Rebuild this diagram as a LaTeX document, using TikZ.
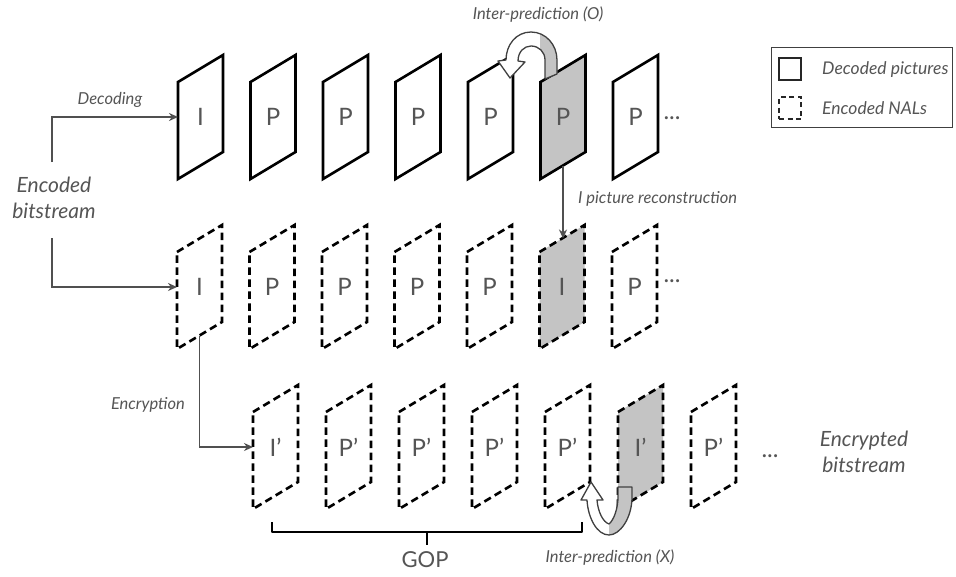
\documentclass[tikz,border=0pt]{standalone}
\usepackage{fontspec}
\setmainfont{Lato}
\usetikzlibrary{arrows.meta}
\definecolor{txt}{HTML}{555555}
\definecolor{arr}{HTML}{505050}
\definecolor{fillg}{HTML}{C4C4C4}
\definecolor{outl}{HTML}{404040}
\newcommand\pframe[6]{% x, T, style, fill, label, name
  \fill[#4] (#1,#2) -- ++(45,-27) -- ++(0,97) -- ++(-45,27) -- cycle;
  \draw[#3] (#1,#2) -- ++(45,-27) -- ++(0,97) -- ++(-45,27) -- cycle;
  \node[let] (#6) at ({#1+22.5},{#2+35}) {#5};
  \coordinate (#6-w) at (#1,{#2+35});
  \coordinate (#6-b) at ({#1+22.5},{#2+83.5});
  \coordinate (#6-t) at ({#1+22.5},{#2-13.5});
}
\newcommand\arrOpath{(557,74) -- (557,60) .. controls (557,45) and (546,32) .. (531,32)
  .. controls (516,32) and (506,45) .. (506,60) -- (498,61) -- (510,78) -- (525,62)
  -- (518,61) .. controls (518,52) and (524,46) .. (531,46)
  .. controls (539,46) and (545,52) .. (545,60) -- (545,79) -- cycle}
\newcommand\arrXpath{(632,487) -- (632,497) .. controls (632,518) and (620,535) .. (609,535)
  .. controls (597,535) and (588,518) .. (587,500) -- (581,500) -- (591,482) -- (603,500)
  -- (597,500) .. controls (598,512) and (603,522) .. (609,524)
  .. controls (614,520) and (618,508) .. (618,497) -- (618,487) -- cycle}
\begin{document}
\begin{tikzpicture}[x=1pt,y=-1pt,
  frm/.style={line width=2.6pt, line join=miter, black},
  dsh/.style={frm, dash pattern=on 7.5pt off 4.5pt},
  lbl/.style={font=\fontsize{16.5}{18}\selectfont\itshape, text=txt, inner sep=0pt},
  leglbl/.style={font=\fontsize{17.5}{19}\selectfont\itshape, text=txt, inner sep=0pt},
  big/.style={font=\fontsize{21}{26}\selectfont\itshape, text=txt, align=center, inner sep=0pt},
  let/.style={font=\fontsize{24}{26}\selectfont, text=txt, inner sep=0pt},
  conn/.style={draw=arr, line width=1.6pt, -{Stealth[length=9pt,width=8pt]}}
]
\useasboundingbox (0,0) rectangle (956,576);
\fill[white] (0,0) rectangle (956,576);

% top row: decoded pictures
\pframe{178}{82}{frm}{white}{I}{t0}
\pframe{250.5}{82}{frm}{white}{P}{t1}
\pframe{323}{82}{frm}{white}{P}{t2}
\pframe{395.5}{82}{frm}{white}{P}{t3}
\pframe{468}{82}{frm}{white}{P}{t4}
\pframe{540.5}{82}{frm}{fillg}{P}{t5}
\pframe{613}{82}{frm}{white}{P}{t6}
\node[let] (tdots) at (672,118) {...};

% middle row: encoded NALs
\pframe{177}{252}{dsh}{white}{I}{m0}
\pframe{249.5}{252}{dsh}{white}{P}{m1}
\pframe{322}{252}{dsh}{white}{P}{m2}
\pframe{394.5}{252}{dsh}{white}{P}{m3}
\pframe{467}{252}{dsh}{white}{P}{m4}
\pframe{539.5}{252}{dsh}{fillg}{I}{m5}
\pframe{612}{252}{dsh}{white}{P}{m6}
\node[let] (mdots) at (672,281) {...};

% bottom row: encrypted
\pframe{253}{412}{dsh}{white}{I’}{b0}
\pframe{326}{412}{dsh}{white}{P’}{b1}
\pframe{399}{412}{dsh}{white}{P’}{b2}
\pframe{472}{412}{dsh}{white}{P’}{b3}
\pframe{545}{412}{dsh}{white}{P’}{b4}
\pframe{618}{412}{dsh}{fillg}{I’}{b5}
\pframe{691}{412}{dsh}{white}{P’}{b6}
\node[let] (bdots) at (770,456) {...};

% labels
\node[big] (ebs) at (54,198) {Encoded\\bitstream};
\node[big] (ecb) at (864,452) {Encrypted\\bitstream};
\node[lbl] (dec) at (110,100) {Decoding};
\node[lbl] (ency) at (148,405) {Encryption};
\node[lbl, anchor=west] (ipr) at (578,199) {I picture reconstruction};
\node[lbl] (ipo) at (538,15) {Inter-prediction (O)};
\node[lbl] (ipx) at (610,558) {Inter-prediction (X)};
\node[font=\fontsize{22}{24}\selectfont, text=txt, inner sep=0pt] (gop) at (425,560) {GOP};

% connectors
\coordinate (ebsT) at (52,162);
\coordinate (ebsB) at (52,238);
\draw[conn] (ebsT) |- (t0-w);
\draw[conn] (ebsB) |- (m0-w);
\draw[conn] (m0-b) |- (b0-w);
\draw[conn] (t5-b) -- (t5-b |- m5-t);

% GOP brace
\coordinate (gl) at (272,522);
\coordinate (gr) at (582,522);
\coordinate (gm) at (427,532);
\coordinate (gt) at (427,545);
\draw[line width=2.6pt, line join=round] (gl) -- (gl |- gm) -- (gr |- gm) -- (gr);
\draw[line width=2.6pt] (gm) -- (gt);

% inter-prediction (O) block arrow
\fill[white] \arrOpath;
\begin{scope}
  \clip (540,0) rectangle (600,100);
  \fill[fillg] \arrOpath;
\end{scope}
\draw[outl, line width=1.3pt, line join=round] \arrOpath;

% inter-prediction (X) block arrow
\fill[white] \arrXpath;
\begin{scope}
  \clip (609,470) rectangle (650,540);
  \fill[fillg] \arrXpath;
\end{scope}
\draw[outl, line width=1.3pt, line join=round] \arrXpath;

% legend
\node[draw=outl, line width=0.9pt, minimum width=181pt, minimum height=80pt, inner sep=0pt] (leg) at (861.5,87) {};
\node[draw=black!85, line width=2.2pt, minimum size=22pt, inner sep=0pt] (legS) at (790,69) {};
\node[draw=black!85, line width=2.2pt, dash pattern=on 5pt off 3.5pt, minimum size=22pt, inner sep=0pt] (legD) at (790,108) {};
\node[leglbl, anchor=west] (legSt) at (822,70) {Decoded pictures};
\node[leglbl, anchor=west] (legDt) at (822,108) {Encoded NALs};
\end{tikzpicture}
\end{document}
